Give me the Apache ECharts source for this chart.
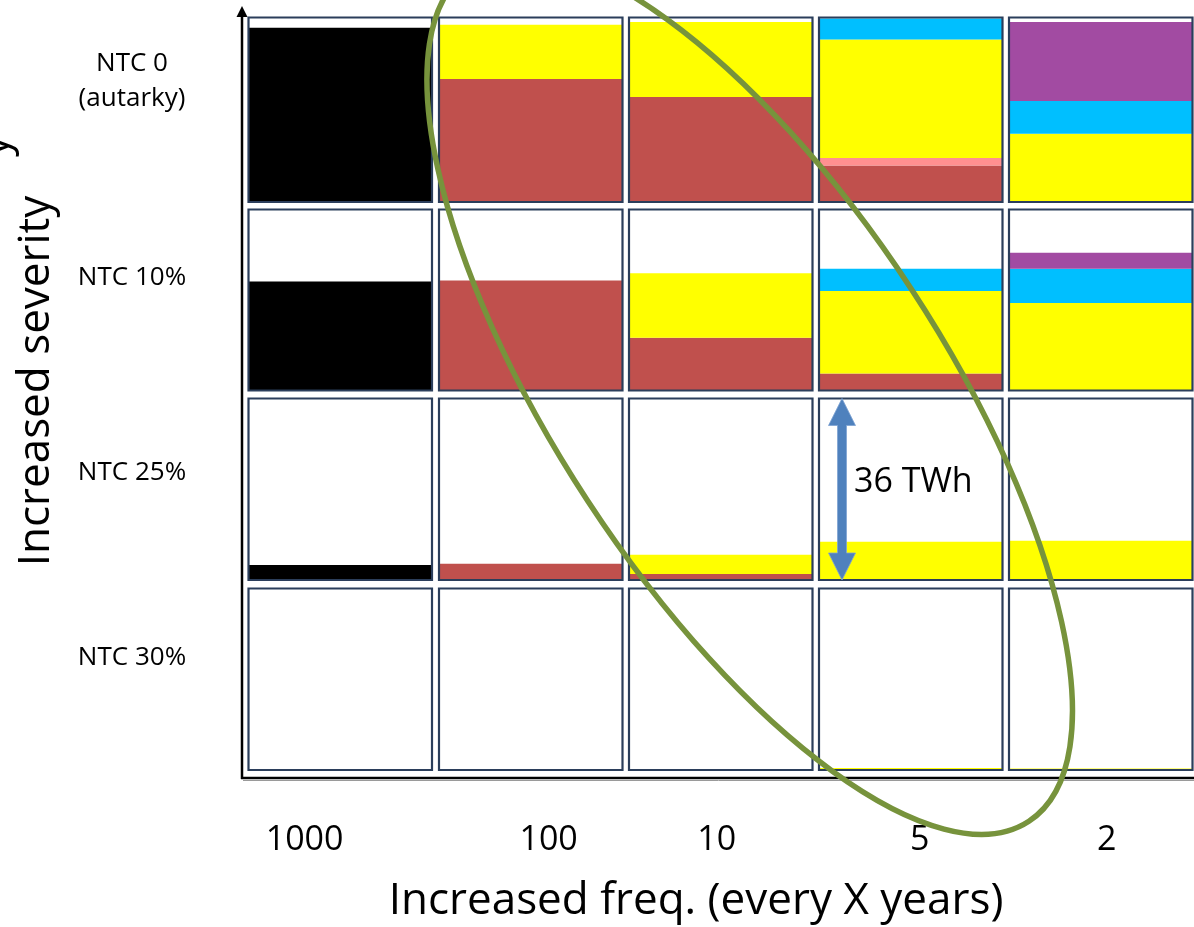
<!DOCTYPE html>
<html><head><meta charset="utf-8">
<script src="https://cdn.jsdelivr.net/npm/echarts@6/dist/echarts.min.js"></script>
<style>html,body{margin:0;padding:0;background:#fff}#c{width:1194px;height:927px}</style>
</head><body><div id="c"></div>
<script>
// ---- data (TWh; full cell height = 36 TWh) ----
const colLabels = ['1000', '100', '10', '5', '2'];
const rowLabels = ['NTC 0\n(autarky)', 'NTC 10%', 'NTC 25%', 'NTC 30%'];
const cellMax = 36;
const arrowLabel = '36 TWh';
const xTitle = 'Increased freq. (every X years)';
const yTitle = 'Increased severity';
// rows: NTC 0, 10%, 25%, 30% ; cols: 1000, 100, 10, 5, 2
const black  = [[34.0, 0, 0, 0, 0], [21.7, 0, 0, 0, 0], [3.0, 0, 0, 0, 0], [0, 0, 0, 0, 0]];
const brown  = [[0, 24.0, 20.5, 7.1, 0], [0, 21.9, 10.5, 3.4, 0], [0, 3.2, 1.2, 0, 0], [0, 0, 0, 0, 0]];
const pink   = [[0, 0, 0, 1.5, 0], [0, 0, 0, 0, 0], [0, 0, 0, 0, 0], [0, 0, 0, 0, 0]];
const yellow = [[0, 10.6, 14.6, 23.1, 13.3], [0, 0, 12.8, 16.4, 17.4], [0, 0, 3.8, 7.6, 7.8], [0, 0, 0, 0.4, 0.3]];
const cyan   = [[0, 0, 0, 4.1, 6.4], [0, 0, 0, 4.4, 6.8], [0, 0, 0, 0, 0], [0, 0, 0, 0, 0]];
const purple = [[0, 0, 0, 0, 15.4], [0, 0, 0, 0, 3.2], [0, 0, 0, 0, 0], [0, 0, 0, 0, 0]];

// ---- styling / layout ----
const layers = [
  {d: black, color: '#000000'},
  {d: brown, color: '#C0504D'},
  {d: pink, color: '#FF9090'},
  {d: yellow, color: '#FFFF00'},
  {d: cyan, color: '#00BFFF'},
  {d: purple, color: '#A24BA2'}
];
const FONT = "'Open Sans', 'Noto Sans', sans-serif";
const cellLeft = [248.5, 439, 629, 819, 1009];
const cellW = 183.5;
const cellTop = [17.5, 209.5, 398.5, 588.5];
const cellH = [184.5, 181, 181.5, 181.5];

const grids = [], xAxes = [], yAxes = [], series = [];
for (let r = 0; r < 4; r++) {
  for (let c = 0; c < 5; c++) {
    const i = r * 5 + c;
    grids.push({left: cellLeft[c], top: cellTop[r], width: cellW, height: cellH[r],
      show: true, borderColor: '#2B3E5B', borderWidth: 2.2, backgroundColor: 'transparent', z: 5});
    xAxes.push({gridIndex: i, type: 'category', data: [colLabels[c]], show: false});
    yAxes.push({gridIndex: i, type: 'value', min: 0, max: cellMax, show: false});
    layers.forEach(L => {
      const v = L.d[r][c];
      if (v > 0) {
        series.push({type: 'bar', xAxisIndex: i, yAxisIndex: i, stack: 'cell' + i,
          data: [v], barWidth: '100%', itemStyle: {color: L.color}, silent: true});
      }
    });
  }
}

const chart = echarts.init(document.getElementById('c'), null, {renderer: 'canvas'});
chart.setOption({animation: false, grid: grids, xAxis: xAxes, yAxis: yAxes, series: series});

// ---- annotations ----
const g = [];
// main axes
g.push({type: 'line', shape: {x1: 242, y1: 14, x2: 242, y2: 779}, style: {stroke: '#000', lineWidth: 2.5}, z: 50});
g.push({type: 'polygon', shape: {points: [[242, 6], [236.5, 17], [247.5, 17]]}, style: {fill: '#000'}, z: 50});
g.push({type: 'line', shape: {x1: 241, y1: 778, x2: 1194, y2: 778}, style: {stroke: '#000', lineWidth: 2.5}, z: 50});
g.push({type: 'line', shape: {x1: 243, y1: 780.5, x2: 1194, y2: 780.5}, style: {stroke: '#9a9a9a', lineWidth: 1}, z: 49});
// row labels
const rowLabelY = [81, 277.5, 472.5, 657.5];
rowLabels.forEach((t, r) => g.push({type: 'text', x: 132, y: rowLabelY[r], z: 50,
  style: {text: t, font: '26px ' + FONT, fill: '#000', align: 'center', verticalAlign: 'middle', lineHeight: 35}}));
// column labels
const colLabelX = [304.6, 548.6, 716.8, 919.7, 1106.6];
colLabels.forEach((t, c) => g.push({type: 'text', x: colLabelX[c], y: 840, z: 50,
  style: {text: t, font: '34px ' + FONT, fill: '#000', align: 'center', verticalAlign: 'middle'}}));
// titles
g.push({type: 'text', x: 696, y: 901, z: 50,
  style: {text: xTitle, font: '44px ' + FONT, fill: '#000', align: 'center', verticalAlign: 'middle'}});
g.push({type: 'text', x: 36, y: 381, rotation: Math.PI / 2, z: 50,
  style: {text: yTitle, font: '44px ' + FONT, fill: '#000', align: 'center', verticalAlign: 'middle'}});
// cut-off end of a second rotated title line at the left edge
g.push({type: 'text', x: -5, y: 146, rotation: Math.PI / 2, z: 50,
  style: {text: 'y', font: '44px ' + FONT, fill: '#000', align: 'center', verticalAlign: 'middle'}});
// double arrow spanning a full cell (0..36 TWh) in the NTC 25% / 5-year cell
const ai = 2 * 5 + 3;
const pTop = chart.convertToPixel({gridIndex: ai}, [colLabels[3], cellMax]);
const pBot = chart.convertToPixel({gridIndex: ai}, [colLabels[3], 0]);
const ax = 842, hw = 13.5, sw = 4.5, hh = 27;
const yT = pTop[1], yB = pBot[1];
g.push({type: 'polygon', z: 60, shape: {points: [
  [ax, yT], [ax + hw, yT + hh], [ax + sw, yT + hh], [ax + sw, yB - hh], [ax + hw, yB - hh], [ax, yB],
  [ax - hw, yB - hh], [ax - sw, yB - hh], [ax - sw, yT + hh], [ax - hw, yT + hh]]},
  style: {fill: '#4F81BD', stroke: '#7FA3D3', lineWidth: 0.8}});
g.push({type: 'text', x: 854, y: 482, z: 60,
  style: {text: arrowLabel, font: '34px ' + FONT, fill: '#000', align: 'left', verticalAlign: 'middle'}});
// olive ellipse highlighting the diagonal
g.push({type: 'ellipse', x: 749.7, y: 395.2, rotation: 33.24 * Math.PI / 180, z: 70,
  shape: {cx: 0, cy: 0, rx: 193.4, ry: 509.4},
  style: {fill: null, stroke: '#77933C', lineWidth: 5.5}});
chart.setOption({graphic: g});
</script></body></html>
